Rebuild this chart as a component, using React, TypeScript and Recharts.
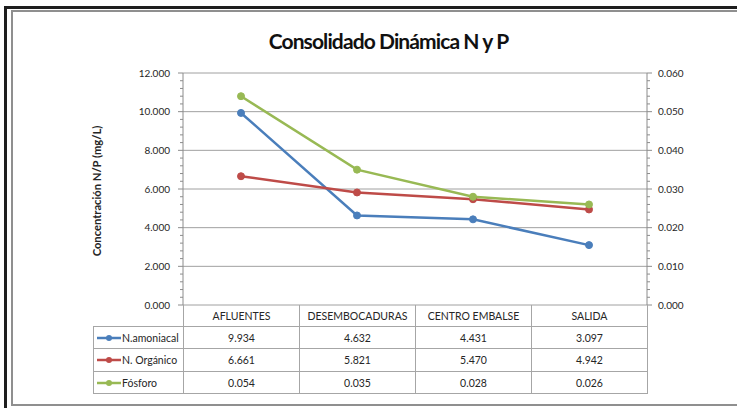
import React from 'react';
import { LineChart, Line, XAxis, YAxis, CartesianGrid } from 'recharts';

const categories = ['AFLUENTES', 'DESEMBOCADURAS', 'CENTRO EMBALSE', 'SALIDA'];
const nAmoniacal = [9.934, 4.632, 4.431, 3.097];
const nOrganico = [6.661, 5.821, 5.47, 4.942];
const fosforo = [0.054, 0.035, 0.028, 0.026];

const leftMajor = [0, 2, 4, 6, 8, 10, 12];
// five subdivisions between labelled ticks, like the Excel minor ticks
const leftTicks = Array.from({ length: 31 }, (_, i) => +(i * 0.4).toFixed(1));
const rightTicks = Array.from({ length: 31 }, (_, i) => +(i * 0.002).toFixed(3));

const series = [
  { key: 'amon', name: 'N.amoniacal', values: nAmoniacal, color: '#4A7EBB', axis: 'left' },
  { key: 'org', name: 'N. Orgánico', values: nOrganico, color: '#BE4B48', axis: 'left' },
  { key: 'fos', name: 'Fósforo', values: fosforo, color: '#98B954', axis: 'right' },
];

const data = categories.map((name, i) => ({
  name,
  amon: nAmoniacal[i],
  org: nOrganico[i],
  fos: fosforo[i],
}));

const AXIS = '#8c8c8c';
const TEXT = '#262626';
const FONT = 'Lato, "Open Sans", sans-serif';

const isMajor = (v: number, step: number) => Math.abs(v / step - Math.round(v / step)) < 1e-6;

const LeftTick = ({ x, y, payload }: any) => {
  const major = isMajor(payload.value, 2);
  return (
    <g>
      <line x1={x} x2={x - (major ? 5 : 3)} y1={y} y2={y} stroke={AXIS} />
      {major && (
        <text x={x - 13} y={y} dy={3.5} textAnchor="end" fontSize={10} fill={TEXT} fontFamily={FONT}>
          {payload.value.toFixed(3)}
        </text>
      )}
    </g>
  );
};

const RightTick = ({ x, y, payload }: any) => {
  const major = isMajor(payload.value, 0.01);
  return (
    <g>
      <line x1={x} x2={x + (major ? 5 : 3)} y1={y} y2={y} stroke={AXIS} />
      {major && (
        <text x={x + 11} y={y} dy={3.5} textAnchor="start" fontSize={10} fill={TEXT} fontFamily={FONT}>
          {payload.value.toFixed(3)}
        </text>
      )}
    </g>
  );
};

const colX = [93, 183, 299, 415, 531, 647];
const rowY = [305, 326, 348, 371, 393];

function DataTable() {
  const lines: React.ReactNode[] = [];
  colX.forEach((x, c) => {
    const top = c === 0 ? rowY[1] : rowY[0];
    lines.push(
      <div key={'v' + c} style={{ position: 'absolute', left: x, top, width: 1, height: rowY[4] - top + 1, background: '#a6a6a6' }} />
    );
  });
  rowY.forEach((y, r) => {
    if (r === 0) return;
    lines.push(
      <div key={'h' + r} style={{ position: 'absolute', left: colX[0], top: y, width: colX[5] - colX[0] + 1, height: 1, background: '#a6a6a6' }} />
    );
  });

  const cell = (key: string, c: number, r: number, content: React.ReactNode, align = 'center') => (
    <div
      key={key}
      style={{
        position: 'absolute',
        left: colX[c] + 1,
        top: rowY[r] + 1,
        width: colX[c + 1] - colX[c] - 1,
        height: rowY[r + 1] - rowY[r] - 1,
        display: 'flex',
        alignItems: 'center',
        justifyContent: align,
        fontSize: 10.5,
        color: TEXT,
        fontFamily: FONT,
        whiteSpace: 'nowrap',
      }}
    >
      {content}
    </div>
  );

  const cells: React.ReactNode[] = [];
  categories.forEach((cat, i) => cells.push(cell('c' + i, i + 1, 0, cat)));
  series.forEach((s, r) => {
    cells.push(
      cell(
        'l' + r,
        0,
        r + 1,
        <>
          <svg width={26} height={10} style={{ marginLeft: 2 }}>
            <line x1={1} x2={25} y1={5} y2={5} stroke={s.color} strokeWidth={2.5} />
            <circle cx={13} cy={5} r={3} fill={s.color} />
          </svg>
          <span>{s.name}</span>
        </>,
        'flex-start'
      )
    );
    s.values.forEach((v, i) => cells.push(cell('d' + r + i, i + 1, r + 1, v.toFixed(3))));
  });

  return (
    <>
      {lines}
      {cells}
    </>
  );
}

export default function App() {
  return (
    <div style={{ position: 'absolute', left: 0, top: 0, width: 737, height: 408, background: '#fff', overflow: 'hidden', fontFamily: FONT }}>
      {/* frame */}
      <div style={{ position: 'absolute', left: 4, top: 6, width: 740, height: 3, background: '#1e1e1e' }} />
      <div style={{ position: 'absolute', left: 4, top: 6, width: 3, height: 410, background: '#1e1e1e' }} />
      <div style={{ position: 'absolute', left: 11, top: 10, width: 740, height: 1.5, background: '#8f8f8f' }} />
      <div style={{ position: 'absolute', left: 11, top: 10, width: 1.5, height: 396, background: '#8f8f8f' }} />
      <div style={{ position: 'absolute', left: 11, top: 404, width: 740, height: 2, background: '#8f8f8f' }} />

      <div
        style={{
          position: 'absolute',
          left: 0,
          width: 777,
          top: 28,
          textAlign: 'center',
          fontSize: 21,
          fontWeight: 700,
          letterSpacing: -0.9,
          color: '#111',
        }}
      >
        Consolidado Dinámica N y P
      </div>
      <div
        style={{
          position: 'absolute',
          left: 96,
          top: 191,
          transform: 'translate(-50%, -50%) rotate(-90deg)',
          fontSize: 11.2,
          fontWeight: 700,
          color: TEXT,
          whiteSpace: 'nowrap',
        }}
      >
        Concentración N/P (mg/L)
      </div>

      <div style={{ position: 'absolute', left: 0, top: 0 }}>
        <LineChart width={737} height={408} data={data} margin={{ top: 73, right: 30, bottom: 103, left: 123 }}>
          <CartesianGrid vertical={false} stroke="#a0a0a0" yAxisId="left" horizontalValues={leftMajor} />
          <XAxis dataKey="name" hide padding={{ left: 58, right: 58 }} />
          <YAxis
            yAxisId="left"
            orientation="left"
            width={60}
            domain={[0, 12]}
            ticks={leftTicks}
            interval={0}
            tickSize={0}
            tickMargin={0}
            tickLine={false}
            axisLine={{ stroke: AXIS }}
            tick={<LeftTick />}
          />
          <YAxis
            yAxisId="right"
            orientation="right"
            width={60}
            domain={[0, 0.06]}
            ticks={rightTicks}
            interval={0}
            tickSize={0}
            tickMargin={0}
            tickLine={false}
            axisLine={{ stroke: AXIS }}
            tick={<RightTick />}
          />
          {series.map((s) => (
            <Line
              key={s.key}
              yAxisId={s.axis}
              dataKey={s.key}
              name={s.name}
              stroke={s.color}
              strokeWidth={2.5}
              dot={{ r: 3.5, fill: s.color, stroke: s.color, strokeWidth: 1 }}
              activeDot={false}
              isAnimationActive={false}
            />
          ))}
        </LineChart>
      </div>
      <DataTable />
    </div>
  );
}
